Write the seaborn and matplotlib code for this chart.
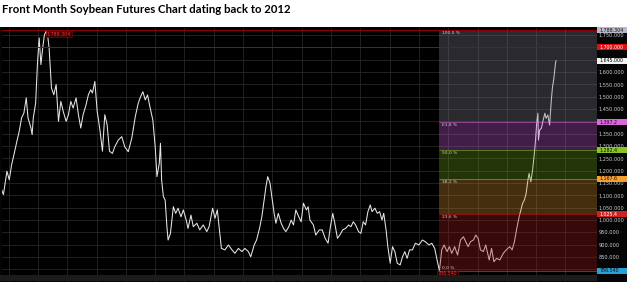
import matplotlib
matplotlib.use("Agg")
import matplotlib.pyplot as plt
import matplotlib.transforms as mtransforms
from matplotlib.patches import Rectangle
import pandas as pd
import seaborn as sns

title = "Front Month Soybean Futures Chart dating back to 2012"

# decimal-year dates and prices
dates = [2011.87, 2011.91, 2011.97, 2012.01, 2012.05, 2012.09, 2012.14, 2012.18, 2012.22, 2012.26,
         2012.30, 2012.33, 2012.38, 2012.40, 2012.42, 2012.46, 2012.49, 2012.52, 2012.55, 2012.58,
         2012.61, 2012.64, 2012.67, 2012.69, 2012.73, 2012.77, 2012.81, 2012.85, 2012.89, 2012.93,
         2012.98, 2013.02, 2013.06, 2013.10, 2013.15, 2013.19, 2013.23, 2013.27, 2013.32, 2013.36,
         2013.40, 2013.43, 2013.47, 2013.51, 2013.56, 2013.60, 2013.64, 2013.68, 2013.72, 2013.77,
         2013.81, 2013.87, 2013.93, 2013.98, 2014.04, 2014.10, 2014.16, 2014.21, 2014.25, 2014.29,
         2014.33, 2014.37, 2014.41, 2014.46, 2014.50, 2014.53, 2014.57, 2014.59, 2014.61, 2014.64,
         2014.67, 2014.70, 2014.72, 2014.76, 2014.81, 2014.85, 2014.89, 2014.94, 2014.98, 2015.03,
         2015.06, 2015.11, 2015.15, 2015.21, 2015.26, 2015.32, 2015.38, 2015.42, 2015.48, 2015.52,
         2015.56, 2015.61, 2015.63, 2015.69, 2015.75, 2015.81, 2015.86, 2015.92, 2015.98, 2016.03,
         2016.09, 2016.13, 2016.19, 2016.23, 2016.28, 2016.32, 2016.36, 2016.39, 2016.42, 2016.46,
         2016.49, 2016.53, 2016.56, 2016.60, 2016.65, 2016.69, 2016.73, 2016.78, 2016.82, 2016.86,
         2016.90, 2016.95, 2016.99, 2017.03, 2017.08, 2017.11, 2017.14, 2017.20, 2017.24, 2017.30,
         2017.35, 2017.40, 2017.45, 2017.49, 2017.53, 2017.56, 2017.61, 2017.65, 2017.70, 2017.75,
         2017.80, 2017.84, 2017.88, 2017.92, 2017.97, 2018.01, 2018.05, 2018.09, 2018.13, 2018.17,
         2018.20, 2018.25, 2018.29, 2018.33, 2018.37, 2018.40, 2018.44, 2018.47, 2018.51, 2018.55,
         2018.59, 2018.63, 2018.68, 2018.72, 2018.76, 2018.80, 2018.84, 2018.89, 2018.94, 2019.00,
         2019.06, 2019.11, 2019.17, 2019.22, 2019.27, 2019.31, 2019.35, 2019.39, 2019.43, 2019.48,
         2019.52, 2019.56, 2019.61, 2019.66, 2019.71, 2019.76, 2019.80, 2019.84, 2019.88, 2019.93,
         2019.97, 2020.01, 2020.05, 2020.10, 2020.14, 2020.20, 2020.24, 2020.28, 2020.33, 2020.38,
         2020.44, 2020.49, 2020.55, 2020.59, 2020.63, 2020.67, 2020.71, 2020.74, 2020.77, 2020.80,
         2020.83, 2020.86, 2020.88, 2020.91, 2020.94, 2020.97, 2020.99, 2021.01, 2021.03, 2021.04,
         2021.06, 2021.09, 2021.12, 2021.15, 2021.17, 2021.20, 2021.23, 2021.24, 2021.26, 2021.28,
         2021.30, 2021.33, 2021.34]
prices = [1130, 1103, 1198, 1163, 1224, 1265, 1319, 1360, 1414, 1434,
          1495, 1414, 1373, 1346, 1414, 1474, 1630, 1738, 1630, 1697,
          1751, 1765, 1738, 1697, 1535, 1508, 1549, 1400, 1481, 1441,
          1400, 1427, 1481, 1454, 1495, 1427, 1373, 1427, 1467, 1508,
          1528, 1515, 1562, 1441, 1360, 1279, 1427, 1386, 1279, 1270,
          1297, 1324, 1338, 1297, 1277, 1331, 1419, 1473, 1500, 1520,
          1487, 1507, 1459, 1405, 1297, 1176, 1230, 1311, 1162, 1095,
          1081, 973, 919, 946, 1054, 1027, 1048, 1013, 1041, 1000,
          966, 1020, 973, 987, 960, 980, 953, 973, 1048, 1007,
          1041, 932, 885, 879, 899, 879, 865, 885, 872, 885,
          872, 851, 899, 919, 966, 1013, 1081, 1135, 1176, 1149,
          1095, 1027, 987, 1027, 987, 966, 953, 973, 1000, 980,
          1041, 1013, 993, 1068, 1041, 1054, 1000, 980, 939, 960,
          960, 926, 906, 973, 1027, 993, 926, 939, 960, 966,
          980, 973, 993, 980, 953, 946, 993, 980, 1034, 1061,
          1034, 1048, 1027, 1034, 1000, 1027, 960, 892, 825, 892,
          872, 825, 818, 851, 872, 845, 879, 879, 906, 899,
          919, 912, 899, 906, 885, 838, 795, 879, 899, 872,
          892, 865, 892, 858, 919, 932, 912, 892, 912, 919,
          939, 926, 879, 872, 899, 838, 885, 831, 845, 838,
          865, 879, 892, 879, 912, 966, 1013, 1041, 1068, 1081,
          1108, 1162, 1189, 1155, 1203, 1270, 1324, 1392, 1433, 1324,
          1365, 1372, 1405, 1433, 1412, 1426, 1385, 1419, 1487, 1540,
          1568, 1635, 1646]

x_tick_pos = [2012.0, 2012.5, 2013.0, 2013.5, 2014.0, 2014.5, 2015.0, 2015.5, 2016.0, 2016.5,
              2017.0, 2017.5, 2018.0, 2018.5, 2019.0, 2019.5, 2020.0, 2020.5, 2021.0, 2021.5]
x_tick_labels = ["Jan 12", "Jul 12", "Jan 13", "Jul 13", "Jan 14", "Jul 14", "Jan 15", "Jul 15",
                 "Jan 16", "Jul 16", "Jan 17", "Jul 17", "Jan 18", "Jul 18", "Jan 19", "Jul 19",
                 "Jan 20", "Jul 20", "Jan 21", "Jul 21"]

y_grid = [800, 850, 900, 950, 1000, 1050, 1100, 1150, 1200, 1250, 1300, 1350, 1400, 1450,
          1500, 1550, 1600, 1650, 1700, 1750]
y_hidden = [800, 1400, 1650, 1700]

# Fibonacci retracement (low May 2019 -> high Sep 2012)
fib_start = 2019.35
fib_pcts = ["0.0 %", "23.6 %", "38.2 %", "50.0 %", "61.8 %", "100.0 %"]
fib_values = [795, 1025, 1168, 1283, 1398, 1770]
fib_tags = ["786.540", "1,025.4", "1,167.6", "1,282.4", "1,397.2", "1,788.304"]
zone_colors = ["#a81c1c", "#cf8c2c", "#6ea01c", "#c85cd8", "#80808c"]
tag_colors = ["#2aa0d8", "#d02020", "#f4a030", "#88c428", "#d868d8", "#b8b8c8"]
tag_text_colors = ["#101010", "#ffffff", "#101010", "#101010", "#101010", "#101010"]

resistance = 1700
last_price = 1646
high_date, high_text = 2012.65, "1,788.304"
low_date, low_text = 2019.32, "786.540"

W, H = 627, 287
fig = plt.figure(figsize=(W / 100, H / 100), dpi=100, facecolor="white")

# dark chart panel
fig.add_artist(Rectangle((0, 1 - 282 / H), 1, (282 - 27) / H, transform=fig.transFigure,
                         facecolor="#050505", edgecolor="none", zorder=0))
fig.add_artist(Rectangle((0, 1 - 281 / H), 597 / W, 6 / H, transform=fig.transFigure,
                         facecolor="#1b1b1b", edgecolor="none", zorder=0.5))

fig.text(2 / W, 1 - 9.5 / H, title, ha="left", va="center", fontsize=8.2,
         fontweight="bold", family="Lato", color="black")

ax = fig.add_axes([2 / W, 1 - 275 / H, 595 / W, (275 - 28) / H])
ax.set_facecolor("#000000")
x_left, x_right = 2011.886, 2022.039
ax.set_xlim(x_left, x_right)
ax.set_ylim(777.2, 1778.4)

df = pd.DataFrame({"date": dates, "price": prices})
sns.lineplot(data=df, x="date", y="price", ax=ax, color="#e6e6e6", linewidth=0.75,
             sort=False, estimator=None, zorder=2)

# fib zones drawn over the line (semi-transparent)
for i in range(5):
    ax.fill_between([fib_start, x_right], fib_values[i], fib_values[i + 1],
                    color=zone_colors[i], alpha=0.33, lw=0, zorder=3)
for i, v in enumerate(fib_values):
    ax.hlines(v, fib_start, x_right, color=tag_colors[i], lw=0.6, alpha=0.6, zorder=3.5)
    if i == 0:
        ax.text(fib_start + 0.05, v + 2, fib_pcts[i], ha="left", va="bottom", fontsize=3.2,
                color="#cfcfcf", zorder=6)
    else:
        ax.text(fib_start + 0.05, v - 4, fib_pcts[i], ha="left", va="top", fontsize=3.2,
                color="#cfcfcf", zorder=6)

ax.axhline(resistance, color="#b00000", lw=0.7, zorder=4)
ax.axhline(fib_values[-1], color="#900000", lw=0.7, zorder=4)

# high / low markers
ax.text(high_date, 1755, high_text, ha="left", va="center", fontsize=3.4, color="#ff3030",
        zorder=7, bbox=dict(boxstyle="square,pad=0.15", fc="#3a0000", ec="#900000", lw=0.4))
ax.text(low_date, 782, low_text, ha="left", va="center", fontsize=3.4, color="#ff3030",
        zorder=7, bbox=dict(boxstyle="square,pad=0.1", fc="#1a0000", ec="#b00000", lw=0.4))

# grid
ax.set_yticks(y_grid)
ax.set_yticklabels(["" if v in y_hidden else f"{v:,.3f}" for v in y_grid])
ax.yaxis.tick_right()
ax.set_xticks(x_tick_pos)
ax.set_xticklabels(x_tick_labels)
for lab in ax.get_xticklabels():
    lab.set_horizontalalignment("left")
ax.grid(True, color="#262626", lw=0.6, zorder=1)
ax.set_axisbelow(True)
ax.tick_params(axis="y", length=0, pad=1.0, labelsize=3.6, labelcolor="#d0d0d0")
ax.tick_params(axis="x", length=4.3, width=0.5, color="#5a5a5a", direction="out",
               pad=-3.7, labelsize=3.4, labelcolor="#bdbdbd")
for lab in ax.get_xticklabels():
    lab.set_transform(lab.get_transform() + mtransforms.ScaledTranslation(1.5 / 72, 0, fig.dpi_scale_trans))
ax.set_xlabel("")
ax.set_ylabel("")
for s in ax.spines.values():
    s.set_visible(False)

# right-side price tags
trans = mtransforms.blended_transform_factory(ax.transAxes, ax.transData)
tag_w = 30 / 595
tag_h = 6 * 4.05
tags = [(v, fib_tags[i], tag_colors[i], tag_text_colors[i]) for i, v in enumerate(fib_values)]
tags += [(resistance, f"{resistance:,.3f}", "#e01010", "#ffffff"),
         (last_price, "1,645.000", "#f2f2f2", "#000000")]
for v, txt, fc, tc in tags:
    ax.add_patch(Rectangle((1.0, v - tag_h / 2), tag_w, tag_h, transform=trans,
                           facecolor=fc, edgecolor="none", clip_on=False, zorder=8))
    ax.text(1.004, v, txt, transform=trans, ha="left", va="center", fontsize=3.4,
            color=tc, clip_on=False, zorder=9)

fig.savefig("out.png", dpi=100, facecolor="white")
